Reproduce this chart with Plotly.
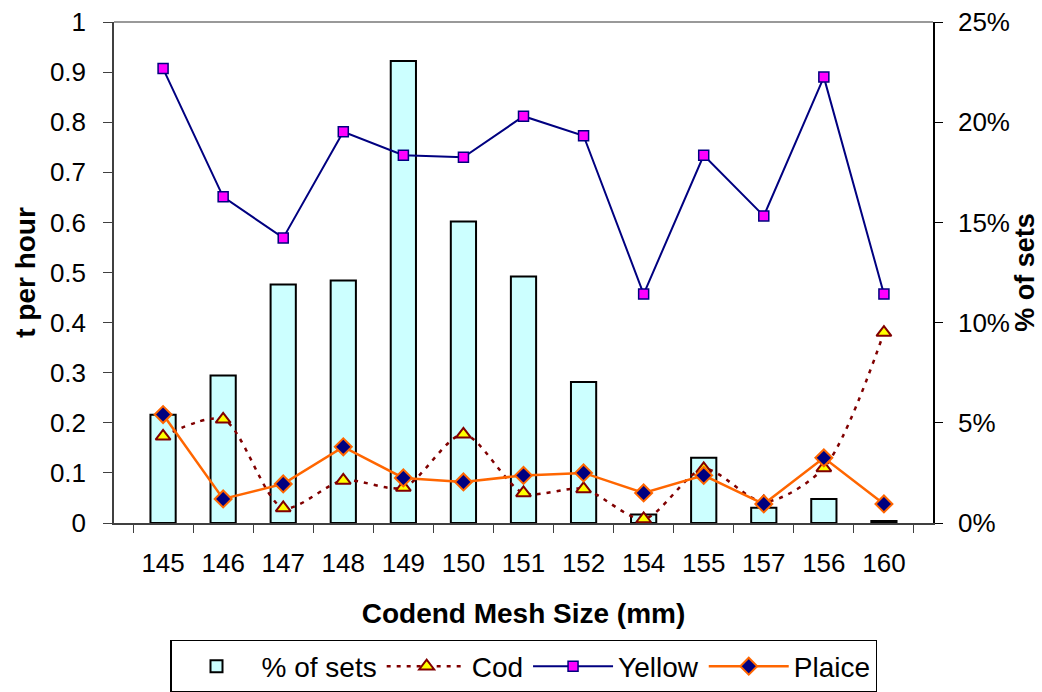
import plotly.graph_objects as go

categories = ["145", "146", "147", "148", "149", "150", "151", "152", "154", "155", "157", "156", "160"]
pct_sets = [0.054, 0.0736, 0.119, 0.121, 0.2305, 0.1505, 0.123, 0.0703, 0.0043, 0.0325, 0.0076, 0.012, 0.001]
cod = [0.173, 0.207, 0.030, 0.085, 0.071, 0.177, 0.060, 0.068, 0.008, 0.108, 0.042, 0.110, 0.380]
yellow = [0.907, 0.651, 0.569, 0.781, 0.734, 0.730, 0.812, 0.773, 0.457, 0.734, 0.613, 0.890, 0.457]
plaice = [0.2165, 0.048, 0.078, 0.152, 0.090, 0.082, 0.095, 0.100, 0.060, 0.095, 0.038, 0.130, 0.038]

FONT = "Arial, Liberation Sans, sans-serif"

fig = go.Figure()
fig.add_trace(go.Bar(
    x=categories, y=pct_sets, name="% of sets", yaxis="y",
    marker=dict(color="#CCFFFF", line=dict(color="black", width=2)),
    width=0.42,
))
fig.add_trace(go.Scatter(
    x=categories, y=cod, name="Cod", yaxis="y2", mode="lines+markers",
    line=dict(color="#800000", width=2.5, dash="4px,6px", shape="spline", smoothing=0.8),
    marker=dict(symbol="triangle-up", size=13, color="#FFFF00", line=dict(color="#800000", width=2)),
))
fig.add_trace(go.Scatter(
    x=categories, y=yellow, name="Yellow", yaxis="y2", mode="lines+markers",
    line=dict(color="#000080", width=2),
    marker=dict(symbol="square", size=10, color="#FF00FF", line=dict(color="#000080", width=1.5)),
))
fig.add_trace(go.Scatter(
    x=categories, y=plaice, name="Plaice", yaxis="y2", mode="lines+markers",
    line=dict(color="#FF6600", width=2.5),
    marker=dict(symbol="diamond", size=13, color="#000080", line=dict(color="#FF6600", width=2)),
))

fig.update_layout(
    width=1042, height=692,
    margin=dict(l=114, r=109, t=22, b=169, autoexpand=False),
    plot_bgcolor="white", paper_bgcolor="white",
    font=dict(family=FONT, size=26, color="black"),
    showlegend=True,
    xaxis=dict(
        type="category", showgrid=False, showline=True, linecolor="#404040", linewidth=1.5,
        ticks="outside", tickson="boundaries", ticklen=8, tickcolor="#404040",
        tickfont=dict(size=26), ticklabelstandoff=16, automargin=False,
        title=dict(text="<b>Codend Mesh Size (mm)</b>", font=dict(size=28), standoff=26),
    ),
    yaxis=dict(
        side="right", range=[0, 0.25], dtick=0.05, tickformat=".0%",
        showgrid=False, showline=True, linecolor="black", linewidth=1.5,
        ticks="outside", ticklen=8, tickcolor="black", tickfont=dict(size=26),
        ticklabelstandoff=10, automargin=False,
        title=dict(text="<b>% of sets</b>", font=dict(size=27), standoff=6),
        zeroline=False,
    ),
    yaxis2=dict(
        overlaying="y", side="left", range=[0, 1], dtick=0.1,
        showgrid=False, showline=True, linecolor="#404040", linewidth=1.5,
        ticks="outside", ticklen=9, tickcolor="#404040", tickfont=dict(size=26),
        ticklabelstandoff=12, automargin=False,
        title=dict(text="<b>t per hour</b>", font=dict(size=28), standoff=6),
        zeroline=False, tickformat="~g",
    ),
    legend=dict(
        orientation="h", x=0.5, xanchor="center", y=-0.2335, yanchor="top",
        bordercolor="black", borderwidth=1.5, font=dict(size=28),
        traceorder="normal", itemwidth=80,
    ),
    shapes=[dict(type="line", xref="paper", yref="paper", x0=0, x1=1, y0=1, y1=1,
                 line=dict(color="#999999", width=2))],
)

fig.write_html("out.html")
